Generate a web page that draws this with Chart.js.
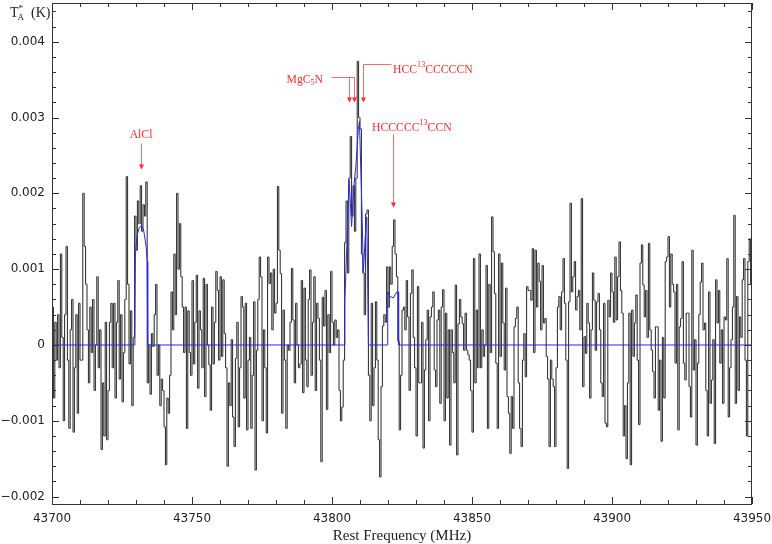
<!DOCTYPE html>
<html>
<head>
<meta charset="utf-8">
<script src="https://cdn.jsdelivr.net/npm/chart.js@4.4.1/dist/chart.umd.min.js"></script>
<style>body{margin:0;background:#fff}</style>
</head>
<body>
<canvas id="spec" width="772" height="544"></canvas>
<script>
// spectrum channels: 0.5 MHz wide, first centre at 43700.25 MHz, values in mK
const startFreq = 43700.25;
const chanWidth = 0.5;
const tmb_mK = [
  0.5, -0.7, 0.3, -0.2, 0.4, -0.3, 1.2, 0.1, -1.0, 0.4,
  1.3, -0.2, -1.1, 0.2, 0.6, -1.15, -0.3, 0.4, -0.9, 0.55,
  -0.2, -0.2, 2.0, 1.3, 0.8, 0.2, -0.5, 0.5, -0.1, 0.6,
  -0.6, 0.0, 0.9, -0.3, 0.2, -1.38, -0.5, -1.2, 0.3, -1.25,
  -0.6, 0.3, 0.55, -0.3, 0.55, -0.7, 0.3, 0.85, -0.45, 0.4,
  -0.75, -0.1, 0.6, 2.22, 0.8, -0.25, 0.45, -0.8, 0.1, 1.7,
  1.25, 1.9, 1.6, 2.1, 1.5, 1.85, 1.7, 2.15, -0.5, 0.0,
  -0.65, 0.15, -0.02, 0.4, 0.8, -0.4, 0.0, -0.8, -0.45, -0.6,
  -1.08, -1.58, -0.7, -0.9, -0.4, 0.7, 0.2, 1.2, 0.4, 2.0,
  1.0, 1.6, 0.9, 0.5, -0.1, 0.5, -1.1, 0.45, -0.1, -0.4,
  0.85, -0.25, 0.3, 0.92, -0.57, 0.45, 0.2, -0.3, 0.88, -0.68,
  0.8, 0.0, -0.26, -0.86, 0.5, -0.25, 0.3, 0.97, 0.72, -0.2,
  0.9, -0.15, 0.86, 0.15, -0.3, -1.6, -0.5, -0.8, 0.07, -0.95,
  -1.34, -0.18, 0.3, -1.08, -0.3, 0.64, 0.5, -0.7, 0.55, -1.12,
  -0.2, 0.1, -1.1, -0.4, 0.57, -1.65, -0.07, 0.6, 1.16, 0.9,
  -1.0, 0.2, -0.3, -1.16, 1.16, 0.81, 0.95, 0.2, 1.0, 0.42,
  0.55, 2.09, 1.25, 0.94, -0.9, 0.46, -0.2, -1.1, 0.0, -0.07,
  0.3, 1.01, 0.33, -0.5, 0.55, 0.0, -0.3, -0.25, 0.85, -0.63,
  0.75, -0.2, -0.55, 0.6, 0.99, -0.4, 0.3, 0.9, -0.6, 0.55,
  0.35, -0.2, -1.54, 0.63, 0.25, 0.72, -0.85, 0.4, -0.1, 0.97,
  0.3, 0.0, 0.33, 0.1, 0.2, -0.6, -1.0, -0.82, -0.2, 1.35,
  1.9, 0.95, 2.2, 2.75, 1.7, 2.1, 1.5, 2.2, 3.74, 3.0,
  2.85, 1.2, 0.95, 0.4, 1.73, 1.78, -0.4, -1.0, 0.55, -0.8,
  -0.3, 0.57, -0.2, -1.25, -1.74, -0.55, 0.25, 0.4, 0.3, 1.03,
  0.5, 1.03, 0.8, 1.3, 1.65, 1.2, 0.9, 0.05, -1.12, -0.4,
  0.46, 0.5, 0.2, 0.85, 0.37, -0.6, 0.68, 0.99, 0.1, -0.3,
  -1.2, 0.77, -0.5, -0.5, 0.3, -1.36, -0.33, 0.07, 0.46, -1.0,
  0.37, 0.5, 0.7, -0.33, -0.55, 0.33, 0.46, -0.77, 0.5, 0.73,
  -1.0, 0.42, -0.7, 0.2, -1.32, 0.2, -0.1, -0.5, 0.79, -1.45,
  0.28, 0.6, 0.37, 0.28, -0.07, 0.42, -0.07, -0.13, -0.2, -0.6,
  -1.15, 1.14, -0.5, 0.46, -0.3, 1.2, -0.3, 0.2, -0.15, 0.0,
  1.05, -1.1, 0.8, -0.1, 1.69, 1.23, 0.68, -0.24, -1.1, 1.2,
  -0.15, 1.08, 0.29, -0.33, 0.75, -0.68, -0.9, -1.43, -0.68, -1.1,
  0.24, 0.35, 0.5, -0.5, -1.1, -1.34, -0.2, 0.15, -0.42, 0.77,
  0.72, 0.72, 0.59, 1.27, -0.1, 1.25, 0.5, 1.08, 0.84, 0.2,
  1.05, 0.29, 0.35, -0.15, -0.45, -1.34, -0.2, -0.45, -0.55, -1.34,
  -0.3, 0.5, 0.64, 0.2, 0.7, 1.14, 0.55, -0.2, -1.63, 0.57,
  1.87, 0.7, 0.9, 1.1, 0.46, 0.64, 0.72, 0.2, 1.93, -0.55,
  0.11, -0.11, 0.55, 0.29, -0.7, 0.2, 0.95, 0.59, -0.07, 0.57,
  0.68, 0.2, -0.5, -0.68, 0.55, -1.03, -1.08, 0.59, 0.37, 0.95,
  0.7, 0.3, 1.16, 0.33, 0.9, 1.36, 0.72, 0.42, -1.2, -0.8,
  -1.5, -0.5, 0.42, -1.58, 0.46, -0.15, 0.29, 0.66, -0.2, -1.05,
  1.08, 1.32, 0.79, 0.37, 0.72, 0.1, 1.34, 0.2, -0.07, -0.35,
  -0.7, 0.24, 0.24, -0.86, -0.2, -1.27, 0.1, -0.7, 1.1, 1.16,
  1.43, 0.5, 1.2, 0.8, 0.7, -0.24, 0.8, -1.12, 0.24, 0.35,
  1.1, -0.24, -0.46, 0.42, 0.42, -0.55, -0.95, 1.25, -0.33, 0.07,
  -1.32, -0.24, 0.4, 0.83, 1.08, 0.2, 0.29, -0.6, -1.2, 0.7,
  -0.77, -0.46, 0.07, -1.3, 0.86, 0.29, 0.72, -0.24, 0.2, -0.77,
  0.37, 0.33, 1.14, -0.95, -0.3, 0.07, 0.5, 1.71, -0.77, 0.64,
  -0.6, 0.37, 0.1, 0.86, 1.14, -0.2, -1.2, 1.1, 1.4, 0.8
];

// fitted model (blue), MHz / mK
const modelFreq = [43700, 43729.6, 43729.8, 43730.4, 43731.2, 43732.0, 43732.8, 43733.6, 43734.0, 43734.2,
  43804.4, 43804.6, 43805.2, 43806.1, 43807.0, 43807.5, 43807.9, 43808.5, 43809.4, 43809.8, 43810.7,
  43811.2, 43811.8, 43812.4, 43812.7, 43813.0,
  43819.8, 43819.9, 43820.7, 43821.9, 43823.1, 43823.7, 43823.8, 43950];
const modelTmb = [0, 0, 1.2, 1.45, 1.55, 1.57, 1.5, 1.3, 1.1, 0,
  0, 0.59, 1.2, 2.18, 1.56, 1.9, 2.13, 2.35, 2.84, 2.95, 1.78,
  0.95, 1.38, 1.69, 1.03, 0,
  0, 0.7, 0.64, 0.62, 0.7, 0.7, 0, 0];

const xTicks = [43700, 43750, 43800, 43850, 43900, 43950];
const yTicks = [-0.002, -0.001, 0, 0.001, 0.002, 0.003, 0.004];

const specPoints = tmb_mK.map((v, i) => ({x: startFreq + i * chanWidth, y: v / 1000}));
const modelPoints = modelFreq.map((f, i) => ({x: f, y: modelTmb[i] / 1000}));

const RED = '#ff2a2a';
const SQ = 0.9;

function richText(ctx, parts, x, y, size, align) {
  const fontOf = m => (m ? Math.round(size * 0.72) : size) + 'px "Liberation Serif"';
  const widths = parts.map(([t, m]) => { ctx.font = fontOf(m); return ctx.measureText(t).width * SQ; });
  const total = widths.reduce((s, w) => s + w, 0);
  let cx = align === 'right' ? x - total : align === 'center' ? x - total / 2 : x;
  parts.forEach(([t, m], i) => {
    ctx.font = fontOf(m);
    const dy = m === 'sup' ? -size * 0.45 : m === 'sub' ? size * 0.22 : 0;
    ctx.save();
    ctx.translate(cx, y + dy);
    ctx.scale(SQ, 1);
    ctx.fillText(t, 0, 0);
    ctx.restore();
    cx += widths[i];
  });
}

function noPad(s) {
  s.paddingLeft = 0; s.paddingRight = 0; s.paddingTop = 0; s.paddingBottom = 0;
}

const decorations = {
  id: 'decorations',
  afterDraw(chart) {
    const {ctx, chartArea: a, scales: {x, y}} = chart;
    const px = f => Math.round(x.getPixelForValue(f)) + 0.5;
    const py = mK => Math.round(y.getPixelForValue(mK / 1000)) + 0.5;
    ctx.save();

    // frame + inward ticks on all sides
    ctx.strokeStyle = '#333';
    ctx.lineWidth = 1;
    ctx.strokeRect(a.left + 0.5, a.top + 0.5, a.right - a.left - 1, a.bottom - a.top);
    ctx.beginPath();
    for (let f = 43700; f <= 43950; f += 10) {
      const len = f % 50 === 0 ? 7 : 4;
      const X = px(f);
      ctx.moveTo(X, a.bottom); ctx.lineTo(X, a.bottom - len);
      ctx.moveTo(X, a.top); ctx.lineTo(X, a.top + len);
    }
    for (let i = -10; i <= 22; i++) {
      const len = i % 5 === 0 ? 7 : 4;
      const Y = py(i * 0.2);
      ctx.moveTo(a.left, Y); ctx.lineTo(a.left + len, Y);
      ctx.moveTo(a.right, Y); ctx.lineTo(a.right - len, Y);
    }
    ctx.stroke();

    // axis titles
    ctx.fillStyle = '#222';
    ctx.textBaseline = 'alphabetic';
    ctx.textAlign = 'left';
    ctx.font = '15px "Liberation Serif"';
    const t = 'Rest Frequency (MHz)';
    ctx.fillText(t, (a.left + a.right) / 2 - ctx.measureText(t).width / 2, 540);
    ctx.font = '14px "Liberation Serif"';
    ctx.fillText('T', 10, 17);
    const wT = ctx.measureText('T').width;
    ctx.fillText('(K)', 31, 17);
    ctx.font = '9px "Liberation Serif"';
    ctx.fillText('*', 10 + wT, 11);
    ctx.fillText('A', 10 + wT - 1, 20);

    // line identifications
    ctx.strokeStyle = 'rgba(255,40,40,0.7)';
    ctx.fillStyle = RED;
    const arrow = (f, top, tip) => {
      const X = px(f), Y0 = py(top), Y1 = py(tip);
      ctx.beginPath(); ctx.moveTo(X, Y0); ctx.lineTo(X, Y1 - 2); ctx.stroke();
      ctx.beginPath(); ctx.moveTo(X - 2.5, Y1 - 5); ctx.lineTo(X + 2.5, Y1 - 5); ctx.lineTo(X, Y1); ctx.closePath(); ctx.fill();
    };
    const hline = (f0, f1, v) => {
      ctx.beginPath(); ctx.moveTo(px(f0), py(v)); ctx.lineTo(px(f1), py(v)); ctx.stroke();
    };

    richText(ctx, [['AlCl']], x.getPixelForValue(43731.8), py(2.74), 13, 'center');
    arrow(43731.8, 2.66, 2.32);

    richText(ctx, [['MgC'], ['5', 'sub'], ['N']], x.getPixelForValue(43796.8), py(3.47), 13, 'right');
    hline(43799.8, 43808.0, 3.53);
    arrow(43806.2, 3.53, 3.20);
    arrow(43808.0, 3.53, 3.20);

    hline(43811.2, 43821.1, 3.71);
    arrow(43811.2, 3.71, 3.20);
    richText(ctx, [['HCC'], ['13', 'sup'], ['CCCCCN']], x.getPixelForValue(43821.8), py(3.60), 13, 'left');

    richText(ctx, [['HCCCCC'], ['13', 'sup'], ['CCN']], x.getPixelForValue(43814.3), py(2.83), 13, 'left');
    arrow(43821.7, 2.78, 1.82);

    ctx.restore();
  }
};

new Chart(document.getElementById('spec'), {
  type: 'line',
  data: {
    datasets: [
      {
        label: 'model',
        data: modelPoints,
        borderColor: 'rgb(40,40,235)',
        borderWidth: 1,
        pointRadius: 0,
        tension: 0,
        order: 0
      },
      {
        label: 'spectrum',
        data: specPoints,
        borderColor: '#262626',
        borderWidth: 1,
        pointRadius: 0,
        stepped: 'middle',
        order: 1
      }
    ]
  },
  options: {
    responsive: false,
    animation: false,
    layout: {padding: {top: 3, right: 20, left: 0, bottom: 0}},
    plugins: {legend: {display: false}, tooltip: {enabled: false}},
    scales: {
      x: {
        type: 'linear',
        min: 43700,
        max: 43950,
        grid: {display: false, drawTicks: false},
        border: {display: false},
        ticks: {
          font: {family: 'DejaVu Sans', size: 12},
          color: '#222',
          padding: 8,
          maxRotation: 0,
          autoSkip: false,
          callback: v => String(v)
        },
        afterBuildTicks: s => { s.ticks = xTicks.map(v => ({value: v})); },
        afterFit: s => { s.height = 40; noPad(s); }
      },
      y: {
        type: 'linear',
        min: -0.002097,
        max: 0.00451,
        grid: {display: false, drawTicks: false},
        border: {display: false},
        ticks: {
          font: {family: 'DejaVu Sans', size: 12},
          color: '#222',
          padding: 7,
          autoSkip: false,
          callback: v => Math.abs(v) < 1e-12 ? '0' : v.toFixed(3).replace('-', '\u2212')
        },
        afterBuildTicks: s => { s.ticks = yTicks.map(v => ({value: v})); },
        afterFit: s => { s.width = 52; noPad(s); }
      }
    }
  },
  plugins: [decorations]
});
</script>
</body>
</html>
